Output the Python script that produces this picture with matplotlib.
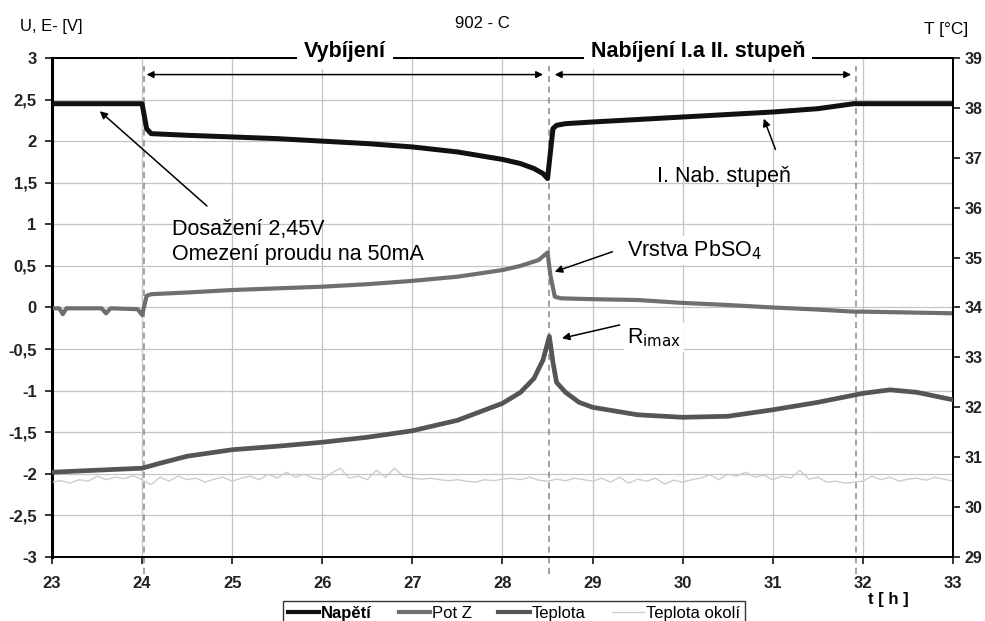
import numpy as np
import matplotlib
matplotlib.use('Agg')
import matplotlib.pyplot as plt
from matplotlib.ticker import FuncFormatter, MultipleLocator
from matplotlib.lines import Line2D

plt.rcParams['font.family'] = ['Liberation Sans', 'DejaVu Sans']

# Napětí [V]
napeti_t = [23.0, 24.0, 24.05, 24.1, 24.5, 25.0, 25.5, 26.0, 26.5, 27.0, 27.5, 28.0, 28.2, 28.35,
            28.45, 28.5, 28.53, 28.56, 28.6, 28.7, 29.0, 29.5, 30.0, 30.5, 31.0, 31.5, 31.9, 32.0, 33.0]
napeti_u = [2.45, 2.45, 2.15, 2.09, 2.07, 2.05, 2.03, 2.00, 1.97, 1.93, 1.87, 1.78, 1.73, 1.67,
            1.61, 1.55, 1.85, 2.15, 2.19, 2.21, 2.23, 2.26, 2.29, 2.32, 2.35, 2.39, 2.45, 2.45, 2.45]

# Pot Z [V]
potz_t = [23.0, 23.08, 23.12, 23.16, 23.55, 23.6, 23.65, 23.95, 24.0, 24.05, 24.1, 24.5, 25.0, 25.5,
          26.0, 26.5, 27.0, 27.5, 28.0, 28.2, 28.4, 28.5, 28.53, 28.58, 28.65, 29.0, 29.5, 30.0,
          30.5, 31.0, 31.5, 31.9, 32.0, 32.5, 33.0]
potz_u = [-0.01, -0.01, -0.08, -0.01, -0.01, -0.07, -0.01, -0.02, -0.09, 0.14, 0.16, 0.18, 0.21, 0.23,
          0.25, 0.28, 0.32, 0.37, 0.45, 0.50, 0.57, 0.66, 0.40, 0.13, 0.11, 0.10, 0.09, 0.055,
          0.03, 0.0, -0.025, -0.05, -0.05, -0.06, -0.07]

# Teplota [°C]
tep_t = [23.0, 23.5, 24.0, 24.2, 24.5, 25.0, 25.5, 26.0, 26.5, 27.0, 27.5, 28.0, 28.2, 28.35,
         28.45, 28.52, 28.56, 28.6, 28.7, 28.85, 29.0, 29.5, 30.0, 30.5, 31.0, 31.5, 32.0, 32.3,
         32.6, 33.0]
tep_c = [30.70, 30.74, 30.78, 30.88, 31.02, 31.15, 31.22, 31.30, 31.40, 31.53, 31.74, 32.08, 32.30, 32.58,
         32.95, 33.42, 32.90, 32.50, 32.30, 32.10, 32.00, 31.85, 31.80, 31.82, 31.95, 32.10, 32.28, 32.35,
         32.30, 32.15]

# Teplota okolí [°C], every 0.1 h from 23.0 to 33.0
okoli_t = np.round(np.arange(23.0, 33.05, 0.1), 2)
okoli_c = [30.50, 30.53, 30.48, 30.55, 30.52, 30.62, 30.55, 30.60, 30.57, 30.63, 30.55,
           30.45, 30.60, 30.52, 30.62, 30.55, 30.58, 30.50, 30.56, 30.60, 30.52,
           30.58, 30.62, 30.55, 30.66, 30.58, 30.70, 30.60, 30.66, 30.58, 30.56,
           30.68, 30.78, 30.58, 30.62, 30.55, 30.74, 30.60, 30.78, 30.62, 30.58,
           30.56, 30.58, 30.55, 30.53, 30.55, 30.52, 30.50, 30.55, 30.53, 30.56,
           30.58, 30.55, 30.60, 30.54, 30.52, 30.56, 30.53, 30.58, 30.55, 30.52,
           30.58, 30.50, 30.60, 30.48, 30.56, 30.52, 30.58, 30.46, 30.54, 30.50,
           30.55, 30.58, 30.65, 30.55, 30.66, 30.62, 30.70, 30.60, 30.64, 30.55,
           30.62, 30.58, 30.74, 30.56, 30.60, 30.50, 30.52, 30.48, 30.50, 30.52,
           30.62, 30.55, 30.60, 30.52, 30.56, 30.58, 30.54, 30.60, 30.56, 30.52]

phase_lines = [24.02, 28.52, 31.92]

fig = plt.figure(figsize=(9.85, 6.21), dpi=100)
ax = fig.add_axes([0.0528, 0.103, 0.9147, 0.8037])
ax2 = ax.twinx()

ax.set_xlim(23, 33)
ax.set_ylim(-3, 3)
ax2.set_ylim(29, 39)
ax.xaxis.set_major_locator(MultipleLocator(1))
ax.yaxis.set_major_locator(MultipleLocator(0.5))
ax2.yaxis.set_major_locator(MultipleLocator(1))
ax.yaxis.set_major_formatter(FuncFormatter(lambda v, p: ('%g' % v).replace('.', ',')))
ax.grid(True, color='#c4c4c4', linewidth=0.9)
ax.set_axisbelow(True)

for a in (ax, ax2):
    for s in a.spines.values():
        s.set_linewidth(1.3)
        s.set_color('black')
    a.tick_params(length=5, width=1.1)
    for lab in a.get_xticklabels() + a.get_yticklabels():
        lab.set_fontsize(12)
        lab.set_fontweight('bold')
        lab.set_color('#222222')
for lab in ax2.get_yticklabels():
    lab.set_fontsize(11.5)
ax.spines['left'].set_linewidth(2.2)
ax.tick_params(axis='x', pad=9)
ax.tick_params(axis='y', pad=6)
ax2.tick_params(axis='y', pad=3)

for x in phase_lines:
    ax.plot([x, x], [-3.2, 2.9], color='#888888', linestyle=(0, (4, 3)), linewidth=1.1,
            clip_on=False, zorder=1.5)

ax.plot(potz_t, potz_u, color='#6f6f6f', linewidth=3.0, zorder=3)
ax.plot(napeti_t, napeti_u, color='#111111', linewidth=3.6, zorder=4)
ax2.plot(okoli_t, okoli_c, color='#cdcdcd', linewidth=1.0, zorder=2)
ax2.plot(tep_t, tep_c, color='#555555', linewidth=3.4, zorder=3)

# phase arrows
ax.annotate('', xy=(24.05, 2.8), xytext=(28.45, 2.8),
            arrowprops=dict(arrowstyle='<|-|>', color='black', lw=1.1, mutation_scale=10, shrinkA=0, shrinkB=0))
ax.annotate('', xy=(28.58, 2.8), xytext=(31.87, 2.8),
            arrowprops=dict(arrowstyle='<|-|>', color='black', lw=1.1, mutation_scale=10, shrinkA=0, shrinkB=0))

tr = ax2.get_xaxis_transform()
ax2.text(26.25, 1.012, 'Vybíjení', transform=tr, ha='center', va='center', fontsize=15.5,
         fontweight='bold', bbox=dict(facecolor='white', edgecolor='none', pad=5), zorder=20, clip_on=False)
ax2.text(30.17, 1.012, 'Nabíjení I.a II. stupeň', transform=tr, ha='center', va='center', fontsize=15.5,
         fontweight='bold', bbox=dict(facecolor='white', edgecolor='none', pad=5), zorder=20, clip_on=False)

# annotations
arr = dict(arrowstyle='-|>', color='black', lw=1.1, mutation_scale=11, shrinkA=0, shrinkB=0)
ax.annotate('', xy=(23.53, 2.36), xytext=(24.72, 1.22), arrowprops=arr)
ax.text(24.33, 0.87, 'Dosažení 2,45V', fontsize=15.5, va='baseline', zorder=6)
ax.text(24.33, 0.57, 'Omezení proudu na 50mA', fontsize=15.5, va='baseline', zorder=6)
ax.text(29.38, 0.61, 'Vrstva PbSO$_4$', fontsize=15.5, va='baseline',
        bbox=dict(facecolor='white', edgecolor='none', pad=2), zorder=6)
ax.annotate('', xy=(28.58, 0.43), xytext=(29.22, 0.67), arrowprops=arr, zorder=6)
ax.text(29.38, -0.43, 'R$_{\\mathrm{imax}}$', fontsize=15.5, va='baseline',
        bbox=dict(facecolor='white', edgecolor='none', pad=2), zorder=6)
ax.annotate('', xy=(28.66, -0.37), xytext=(29.3, -0.21), arrowprops=arr, zorder=6)
ax.text(29.71, 1.51, 'I. Nab. stupeň', fontsize=15.5, va='baseline', zorder=6)
ax.annotate('', xy=(30.9, 2.27), xytext=(31.03, 1.9), arrowprops=arr, zorder=6)

fig.text(0.49, 0.962, '902 - C', fontsize=12, ha='center', va='center')
fig.text(0.020, 0.958, 'U, E- [V]', fontsize=12, ha='left', va='center')
fig.text(0.938, 0.953, 'T [°C]', fontsize=12.5, ha='left', va='center')
fig.text(0.881, 0.034, 't [ h ]', fontsize=12, fontweight='bold', ha='left', va='center')

handles = [Line2D([], [], color='#111111', lw=3),
           Line2D([], [], color='#6f6f6f', lw=3),
           Line2D([], [], color='#555555', lw=3),
           Line2D([], [], color='#cdcdcd', lw=1)]
labels = ['Napětí', 'Pot Z', 'Teplota', 'Teplota okolí']
leg = fig.legend(handles, labels, loc='upper left', bbox_to_anchor=(0.287, 0.033), ncol=4,
                 fontsize=12, handlelength=1.9, handletextpad=0.1, columnspacing=1.6,
                 frameon=True, fancybox=False, borderpad=0.3, borderaxespad=0)
leg.get_frame().set_edgecolor('black')
leg.get_frame().set_linewidth(1.0)
leg.get_texts()[0].set_fontweight('bold')

fig.savefig('out.png', dpi=100)
